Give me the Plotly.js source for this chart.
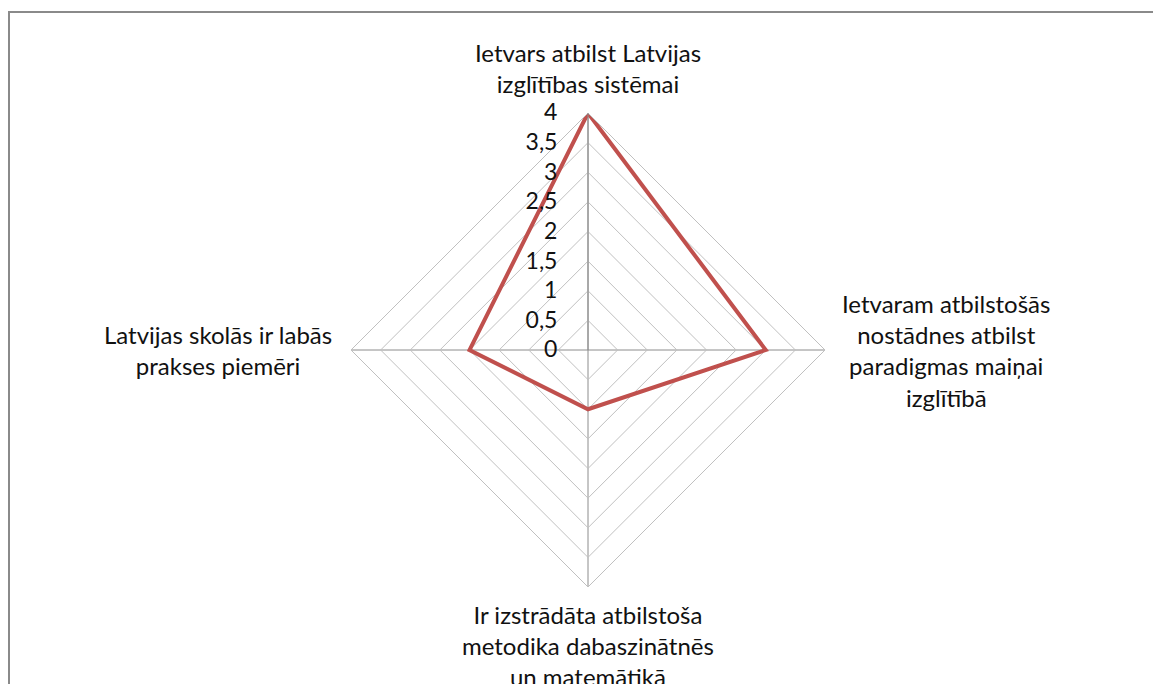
<!DOCTYPE html>
<html>
<head>
<meta charset="utf-8">
<script src="https://cdn.plot.ly/plotly-3.0.1.min.js"></script>
<style>
  body { margin: 0; background: #fff; }
  #chart { width: 1153px; height: 684px; }
</style>
</head>
<body>
<div id="chart"></div>
<script>
// axis names, clockwise from the top
var categories = [
    'Ietvars atbilst Latvijas<br>izglītības sistēmai',
    'Ietvaram atbilstošās<br>nostādnes atbilst<br>paradigmas maiņai<br>izglītībā',
    'Ir izstrādāta atbilstoša<br>metodika dabaszinātnēs<br>un matemātikā',
    'Latvijas skolās ir labās<br>prakses piemēri'
];
var scores = [4, 3, 1, 2];

// close the polygon
var theta = categories.concat([categories[0]]);
var r = scores.concat([scores[0]]);

var series = {
    type: 'scatterpolar',
    mode: 'lines',
    r: r,
    theta: theta,
    line: {color: '#C0504D', width: 4},
    hoverinfo: 'skip',
    showlegend: false
};

var fontFamily = 'Lato, "Open Sans", sans-serif';

// category labels drawn as centred annotations (plotly right/left aligns tick labels)
// [x px, y px] of the label centre
var labelSpots = [[588, 68], [946, 350], [218, 350], [588, 645]];
var labelOrder = [0, 1, 3, 2];
var annotations = labelOrder.map(function (idx, k) {
    return {
        text: categories[idx],
        xref: 'paper', yref: 'paper',
        x: labelSpots[k][0] / 1153,
        y: (684 - labelSpots[k][1]) / 684,
        xanchor: 'center', yanchor: 'middle',
        align: 'center',
        showarrow: false,
        font: {family: fontFamily, size: 24, color: '#111111'}
    };
});

var layout = {
    width: 1153,
    height: 684,
    margin: {l: 0, r: 0, t: 0, b: 0},
    paper_bgcolor: '#ffffff',
    separators: ', ',
    font: {family: fontFamily, size: 24, color: '#111111'},
    polar: {
        domain: {x: [351 / 1153, 825 / 1153], y: [97 / 684, 571 / 684]},
        bgcolor: '#ffffff',
        gridshape: 'linear',
        radialaxis: {
            range: [0, 4],
            dtick: 0.5,
            angle: 90,
            side: 'counterclockwise',
            tickangle: 90,
            showline: true,
            linecolor: '#8c8c8c',
            linewidth: 1,
            gridcolor: '#c0c0c0',
            gridwidth: 1,
            ticks: 'outside',
            ticklen: 22,
            tickcolor: 'rgba(0,0,0,0)',
            tickfont: {size: 23}
        },
        angularaxis: {
            rotation: 90,
            direction: 'clockwise',
            linecolor: '#c0c0c0',
            gridcolor: '#8c8c8c',
            ticks: '',
            showticklabels: false
        }
    },
    annotations: annotations,
    shapes: [{
        type: 'rect',
        xref: 'paper', yref: 'paper',
        x0: 9 / 1153, x1: 1.02,
        y0: -0.02, y1: (684 - 12) / 684,
        line: {color: '#8a8a8a', width: 2}
    }]
};

Plotly.newPlot('chart', [series], layout, {staticPlot: true});
</script>
</body>
</html>
